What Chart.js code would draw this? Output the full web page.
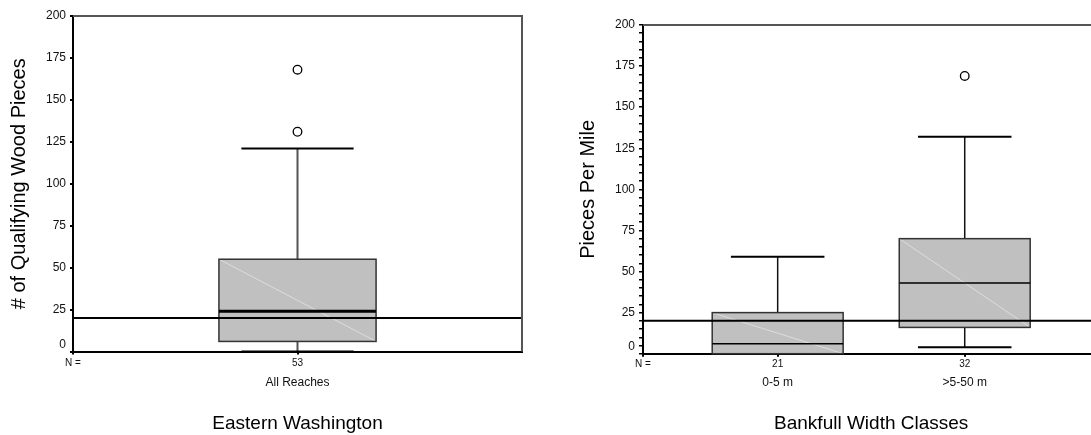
<!DOCTYPE html>
<html>
<head>
<meta charset="utf-8">
<script src="https://cdn.jsdelivr.net/npm/chart.js@4.4.1/dist/chart.umd.min.js"></script>
<style>
  html, body { margin: 0; padding: 0; background: #fff; overflow: hidden; }
  body { width: 1091px; height: 435px; position: relative; }
  canvas { position: absolute; top: 0; }
  #east { left: 0; }
  #bankfull { left: 545px; }
</style>
</head>
<body>
<canvas id="east" width="545" height="435"></canvas>
<canvas id="bankfull" width="560" height="435"></canvas>
<script>
// ── data ─────────────────────────────────────────────────────────
// Eastern Washington, all reaches (# of qualifying wood pieces)
const eastCategories = ['All Reaches'];
const eastCounts = [53];
const eastMin = [0];
const eastQ1 = [6];
const eastMedian = [24];
const eastQ3 = [55];
const eastMax = [121];
const eastOutliers = [[131, 168]];

// by bankfull width class (pieces per mile)
const bankCategories = ['0-5 m', '>5-50 m'];
const bankCounts = [21, 32];
const bankMin = [0, 4];
const bankQ1 = [0, 16];
const bankMedian = [6, 43];
const bankQ3 = [25, 70];
const bankMax = [59, 132];
const bankOutliers = [[], [169]];

const targetLine = 20;   // horizontal reference line on both plots
const yTickLabels = ['0', '25', '50', '75', '100', '125', '150', '175', '200'];

Chart.defaults.font.family = '"Liberation Sans", Arial, sans-serif';
Chart.defaults.color = '#111';

// ── box & whisker drawing ────────────────────────────────────────
const boxPlot = {
  id: 'boxPlot',
  beforeDatasetsDraw(chart, args, o) {
    const { ctx } = chart;
    const x = chart.scales.x, y = chart.scales.y;
    o.q1.forEach((q1, i) => {
      const c = i + 1;
      const xl = x.getPixelForValue(c - o.boxWidth / 2);
      const xr = x.getPixelForValue(c + o.boxWidth / 2);
      const xc = x.getPixelForValue(c);
      const cl = x.getPixelForValue(c - o.capWidth / 2);
      const cr = x.getPixelForValue(c + o.capWidth / 2);
      const yMin = y.getPixelForValue(o.min[i]);
      const yQ1 = y.getPixelForValue(q1);
      const yMed = y.getPixelForValue(o.median[i]);
      const yQ3 = y.getPixelForValue(o.q3[i]);
      const yMax = y.getPixelForValue(o.max[i]);

      ctx.save();
      // whisker stems
      ctx.strokeStyle = o.stemColor;
      ctx.lineWidth = o.stemWidth;
      ctx.beginPath();
      ctx.moveTo(xc, yQ3); ctx.lineTo(xc, yMax);
      ctx.moveTo(xc, yQ1); ctx.lineTo(xc, yMin);
      ctx.stroke();
      // caps
      ctx.strokeStyle = '#000';
      ctx.lineWidth = 2;
      ctx.beginPath();
      ctx.moveTo(cl, yMax); ctx.lineTo(cr, yMax);
      ctx.moveTo(cl, yMin); ctx.lineTo(cr, yMin);
      ctx.stroke();
      // box
      ctx.fillStyle = '#c0c0c0';
      ctx.fillRect(xl, yQ3, xr - xl, yQ1 - yQ3);
      ctx.strokeStyle = 'rgba(255,255,255,0.45)';
      ctx.lineWidth = 1;
      ctx.beginPath();
      ctx.moveTo(xl, yQ3); ctx.lineTo(xr, yQ1);
      ctx.stroke();
      ctx.strokeStyle = '#333';
      ctx.lineWidth = 1.5;
      ctx.strokeRect(xl, yQ3, xr - xl, yQ1 - yQ3);
      // median
      ctx.strokeStyle = '#000';
      ctx.lineWidth = o.medianWidth;
      ctx.beginPath();
      ctx.moveTo(xl, yMed); ctx.lineTo(xr, yMed);
      ctx.stroke();
      ctx.restore();
    });
  },
  afterDatasetsDraw(chart, args, o) {
    const { ctx, chartArea: a } = chart;
    const yr = chart.scales.y.getPixelForValue(o.reference);
    ctx.save();
    ctx.strokeStyle = '#000';
    ctx.lineWidth = 2;
    ctx.beginPath();
    ctx.moveTo(a.left, yr); ctx.lineTo(a.right, yr);
    ctx.stroke();
    // top and right frame
    ctx.strokeStyle = '#555';
    ctx.lineWidth = 2;
    ctx.beginPath();
    ctx.moveTo(a.left, a.top); ctx.lineTo(a.right, a.top); ctx.lineTo(a.right, a.bottom);
    ctx.stroke();
    ctx.restore();
  }
};

function outlierPoints(list) {
  return list.flatMap((vals, i) => vals.map(v => ({ x: i + 1, y: v })));
}

function makeBoxChart(canvas, cfg) {
  const tickStep = cfg.tickStep;
  return new Chart(canvas, {
    type: 'scatter',
    data: {
      datasets: [{
        data: outlierPoints(cfg.outliers),
        pointStyle: 'circle',
        pointRadius: 4.3,
        pointBorderWidth: 1.3,
        borderColor: '#000',
        backgroundColor: '#fff'
      }]
    },
    options: {
      responsive: false,
      animation: false,
      devicePixelRatio: 1,
      layout: { padding: cfg.padding },
      plugins: {
        legend: { display: false },
        tooltip: { enabled: false },
        boxPlot: {
          min: cfg.min, q1: cfg.q1, median: cfg.median, q3: cfg.q3, max: cfg.max,
          boxWidth: 0.7, capWidth: 0.5,
          medianWidth: cfg.medianWidth,
          stemColor: cfg.stemColor, stemWidth: cfg.stemWidth,
          reference: targetLine
        }
      },
      scales: {
        x: {
          type: 'linear', position: 'bottom', weight: 0,
          min: cfg.xMin, max: cfg.xMax,
          afterBuildTicks: s => {
            s.ticks = [{ value: s.min }].concat(cfg.categories.map((c, i) => ({ value: i + 1 })));
          },
          afterFit: s => { s.height = cfg.countAxisHeight; },
          ticks: {
            autoSkip: false, maxRotation: 0, padding: cfg.countPadding,
            font: { size: 10 },
            callback: (v, i) => (i === 0 ? 'N =' : String(cfg.counts[i - 1]))
          },
          grid: { drawOnChartArea: false, tickLength: 3, color: '#000', lineWidth: 2 },
          border: { color: '#000', width: 2 }
        },
        x2: {
          type: 'linear', position: 'bottom', weight: 1,
          min: cfg.xMin, max: cfg.xMax,
          afterBuildTicks: s => {
            s.ticks = cfg.categories.map((c, i) => ({ value: i + 1 }));
          },
          afterFit: s => { s.height = cfg.nameAxisHeight; },
          ticks: {
            autoSkip: false, maxRotation: 0, padding: cfg.namePadding,
            font: { size: 12 },
            callback: (v, i) => cfg.categories[i]
          },
          grid: { display: false, drawTicks: false, tickLength: 0 },
          border: { display: false },
          title: {
            display: true, text: cfg.xTitle,
            font: { size: 19 }, color: '#000',
            padding: { top: 0, bottom: 0 }
          }
        },
        y: {
          type: 'linear', min: 0, max: 200,
          afterBuildTicks: s => {
            const t = [];
            for (let v = 0; v <= 200; v += tickStep) t.push({ value: v });
            s.ticks = t;
          },
          afterFit: s => { s.width = cfg.yWidth; },
          ticks: {
            autoSkip: false, padding: cfg.yTickPadding,
            font: { size: 12 },
            callback: v => {
              const s = String(v);
              if (!yTickLabels.includes(s)) return '';
              return v === 0 ? ['0', ''] : s;
            }
          },
          grid: { drawOnChartArea: false, tickLength: cfg.yTickLength, color: '#000', lineWidth: cfg.yTickWidth },
          border: { color: '#000', width: 2 },
          title: {
            display: true, text: cfg.yTitle,
            font: { size: 20 }, color: '#000',
            padding: { top: 7, bottom: 0 }
          }
        }
      }
    },
    plugins: [boxPlot]
  });
}

makeBoxChart(document.getElementById('east'), {
  categories: eastCategories, counts: eastCounts,
  min: eastMin, q1: eastQ1, median: eastMedian, q3: eastQ3, max: eastMax,
  outliers: eastOutliers,
  xTitle: 'Eastern Washington',
  yTitle: '# of Qualifying Wood Pieces',
  xMin: 0, xMax: 2,
  padding: { top: 16, right: 23, bottom: 0, left: 0 },
  yWidth: 73, yTickPadding: 4, yTickLength: 3, yTickWidth: 2,
  tickStep: 25,
  countAxisHeight: 20, countPadding: 3,
  nameAxisHeight: 63.5, namePadding: 4,
  medianWidth: 3, stemColor: '#555', stemWidth: 2
});

makeBoxChart(document.getElementById('bankfull'), {
  categories: bankCategories, counts: bankCounts,
  min: bankMin, q1: bankQ1, median: bankMedian, q3: bankQ3, max: bankMax,
  outliers: bankOutliers,
  xTitle: 'Bankfull Width Classes',
  yTitle: 'Pieces Per Mile',
  xMin: 0.28, xMax: 2.72,
  padding: { top: 25, right: 5.6, bottom: 0, left: 24 },
  yWidth: 74, yTickPadding: 4, yTickLength: 4, yTickWidth: 1.5,
  tickStep: 5,
  countAxisHeight: 20, countPadding: 2,
  nameAxisHeight: 61.3, namePadding: 2,
  medianWidth: 1.5, stemColor: '#111', stemWidth: 1.5
});
</script>
</body>
</html>
